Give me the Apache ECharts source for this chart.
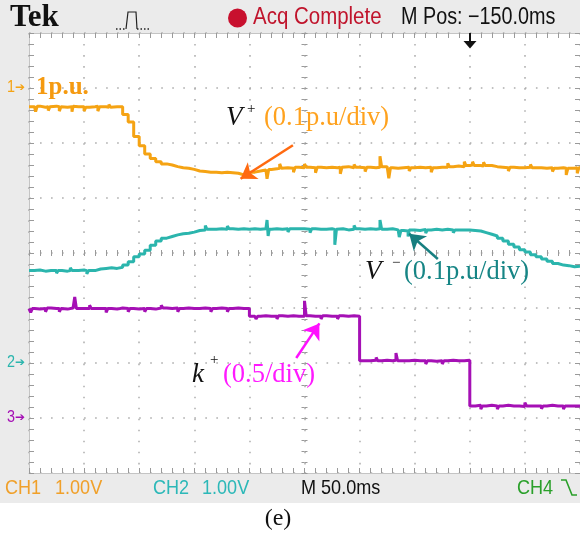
<!DOCTYPE html>
<html><head><meta charset="utf-8">
<script src="https://cdn.jsdelivr.net/npm/echarts@6/dist/echarts.min.js"></script>
<style>html,body{margin:0;padding:0;background:#fff}#c{width:580px;height:533px}</style>
</head><body><div id="c"></div>
<script>
// time in horizontal divisions (M 50.0ms/div)
const timeDiv = [0,0.1,0.2,0.3,0.4,0.5,0.6,0.7,0.8,0.9,1,1.1,1.2,1.3,1.4,1.5,1.6,1.7,1.8,1.9,2,2.1,2.2,2.3,2.4,2.5,2.6,2.7,2.8,2.9,3,3.1,3.2,3.3,3.4,3.5,3.6,3.7,3.8,3.9,4,4.1,4.2,4.3,4.4,4.5,4.6,4.7,4.8,4.9,5,5.1,5.2,5.3,5.4,5.5,5.6,5.7,5.8,5.9,6,6.1,6.2,6.3,6.4,6.5,6.6,6.7,6.8,6.9,7,7.1,7.2,7.3,7.4,7.5,7.6,7.7,7.8,7.9,8,8.1,8.2,8.3,8.4,8.5,8.6,8.7,8.8,8.9,9,9.1,9.2,9.3,9.4,9.5,9.6,9.7,9.8,9.9,10];
// vertical position in screen divisions (0 = bottom, 8 = top)
const ch1Vplus = [6.66,6.67,6.65,6.66,6.67,6.66,6.65,6.66,6.67,6.66,6.65,6.66,6.67,6.66,6.65,6.66,6.66,
  6.52,6.38,6.12,5.95,5.80,5.72,5.66,5.62,5.60,5.57,5.55,5.54,5.52,5.49,5.48,5.47,5.47,5.46,5.47,5.46,5.45,5.42,5.42,
  5.47,5.49,5.51,5.52,5.53,5.54,5.55,5.54,5.56,5.55,
  5.56,5.55,5.56,5.55,5.56,5.55,5.56,5.57,5.55,5.56,
  5.55,5.56,5.55,5.56,5.57,5.55,5.54,5.55,5.56,5.55,
  5.56,5.55,5.56,5.55,5.56,5.56,5.57,5.58,5.57,5.59,
  5.60,5.59,5.58,5.59,5.57,5.56,5.55,5.56,5.55,5.55,
  5.56,5.55,5.55,5.54,5.55,5.54,5.55,5.54,5.54,5.55,5.55];
// short glitches: time of glitch start / value, then return
const ch1SpikeT = [0.12,0.15,0.35,0.38,0.55,0.58,0.78,0.81,1.0,1.03,1.25,1.28,1.45,1.48,4.32,4.35,4.55,4.58,4.8,4.83,5.0,5.03,5.2,5.23,5.65,5.68,5.9,5.93,6.1,6.13,6.37,6.4,6.53,6.56,6.9,6.93,7.3,7.33,7.6,7.63,7.9,7.93,8.05,8.08,8.25,8.28,8.7,8.73,9.1,9.13,9.5,9.53,9.75,9.78,9.95,9.98];
const ch1SpikeV = [6.57,6.67,6.59,6.66,6.58,6.66,6.57,6.66,6.58,6.65,6.58,6.66,6.70,6.65,5.35,5.52,5.62,5.54,5.47,5.56,5.62,5.56,5.46,5.56,5.44,5.56,5.61,5.56,5.48,5.56,5.76,5.57,5.36,5.55,5.49,5.55,5.47,5.55,5.63,5.57,5.66,5.59,5.66,5.59,5.65,5.59,5.49,5.56,5.61,5.55,5.48,5.54,5.42,5.54,5.45,5.55];

const ch2Vminus = [3.68,3.69,3.67,3.68,3.68,3.69,3.67,3.68,3.68,3.69,3.68,3.68,
  3.71,3.72,3.73,3.72,3.74,3.78,3.84,3.93,
  3.98,4.05,4.14,4.22,4.27,4.30,4.33,4.35,4.36,4.38,
  4.41,4.42,4.43,4.43,4.44,4.43,4.44,4.43,4.44,4.43,
  4.44,4.43,4.44,4.43,4.44,4.43,4.44,4.43,4.44,4.44,
  4.43,4.44,4.43,4.43,4.44,4.43,4.44,4.42,4.43,4.44,
  4.43,4.44,4.43,4.44,4.43,4.44,4.42,4.41,4.40,4.42,
  4.41,4.43,4.42,4.43,4.42,4.43,4.42,4.43,4.42,4.42,
  4.41,4.40,4.37,4.34,4.31,4.27,4.22,4.16,4.11,4.06,
  4.02,3.97,3.93,3.89,3.85,3.81,3.78,3.77,3.75,3.76,3.75];
const ch2SpikeT = [0.5,0.53,0.75,0.78,1.05,1.08,3.2,3.23,3.6,3.63,4.32,4.34,4.36,4.7,4.73,5.1,5.13,5.55,5.58,5.9,5.93,6.37,6.4,6.72,6.75,6.88,6.91,7.2,7.23,7.7,7.73];
const ch2SpikeV = [3.63,3.68,3.73,3.68,3.62,3.68,4.50,4.43,4.49,4.44,4.60,4.31,4.43,4.38,4.44,4.37,4.44,4.15,4.43,4.50,4.44,4.60,4.43,4.29,4.41,4.30,4.42,4.36,4.42,4.37,4.42];

const ch4Kplus = [2.99,2.98,2.99,3.00,2.99,2.99,2.98,3.00,2.99,2.99,
  2.99,2.98,2.99,2.99,2.99,2.98,3.00,2.99,2.99,2.98,
  2.99,2.99,2.98,3.00,3.01,2.99,3.00,2.99,3.00,2.99,
  2.99,3.00,2.99,2.98,3.00,2.99,2.99,3.00,2.99,2.99,
  2.85,2.85,2.86,2.85,2.85,2.86,2.85,2.86,2.85,2.85,
  2.86,2.85,2.85,2.86,2.85,2.85,2.86,2.85,2.86,2.85,
  2.04,2.04,2.05,2.04,2.05,2.04,2.05,2.04,2.04,2.05,
  2.04,2.04,2.05,2.03,2.04,2.04,2.05,2.04,2.04,2.05,
  1.22,1.23,1.22,1.23,1.22,1.22,1.23,1.22,1.22,1.21,
  1.23,1.22,1.22,1.22,1.23,1.22,1.22,1.21,1.22,1.22,1.22];
const ch4SpikeT = [0.03,0.06,0.3,0.33,0.55,0.58,0.83,0.86,1.1,1.13,1.4,1.43,1.8,1.83,2.1,2.13,2.4,2.43,2.7,2.73,3.3,3.33,3.6,3.63,4.12,4.15,4.5,4.53,5.0,5.03,5.3,5.33,5.6,5.63,6.3,6.33,6.66,6.69,7.2,7.23,7.5,7.53,8.2,8.23,8.5,8.53,9.0,9.03,9.3,9.33,9.7,9.73];
const ch4SpikeV = [2.92,2.99,2.93,3.00,2.93,2.99,3.20,2.99,3.05,2.99,2.92,2.99,2.93,2.99,2.93,2.99,3.05,3.00,2.93,2.99,2.93,2.99,2.93,2.99,2.80,2.85,2.80,2.86,3.13,2.86,2.80,2.86,2.80,2.86,2.10,2.04,2.18,2.04,1.98,2.04,1.98,2.04,1.16,1.22,1.16,1.22,1.28,1.22,1.17,1.22,1.16,1.22];

const C_OR = '#f5a313', C_CY = '#2bb5ad', C_MG = '#a510b5';
const grid = {left:29, top:33, width:551, height:440};
const tickC = '#9a9a9a';
function bAxis(extra){
  return Object.assign({type:'value', axisLabel:{show:false}, splitLine:{show:false},
    axisLine:{show:true, onZero:false, lineStyle:{color:'#c4c4c4', width:1}},
    axisTick:{show:true, inside:true, length:5, lineStyle:{color:tickC}},
    minorTick:{show:true, splitNumber:5, length:5, lineStyle:{color:tickC}}}, extra);
}
function cAxis(extra, inside){
  return Object.assign({type:'value', axisLabel:{show:false}, splitLine:{show:false},
    axisLine:{show:true, onZero:true, lineStyle:{opacity:0}},
    axisTick:{show:true, inside:inside, length:3, lineStyle:{color:tickC}},
    minorTick:{show:true, splitNumber:5, length:3, lineStyle:{color:tickC}}}, extra);
}
const dotted = {show:true, lineStyle:{type:[1.6,9.42], width:1.5, color:'#adadad'}};

const xAxes = [
  bAxis({gridIndex:0, position:'bottom', min:0, max:10, interval:1, splitLine:dotted}),
  bAxis({gridIndex:0, position:'top', min:0, max:10, interval:1}),
  cAxis({gridIndex:1, position:'bottom', min:-5, max:5, interval:1}, false),
  cAxis({gridIndex:2, position:'bottom', min:-5, max:5, interval:1}, true)
];
const yAxes = [
  bAxis({gridIndex:0, position:'left', min:0, max:8, interval:1, splitLine:dotted}),
  bAxis({gridIndex:0, position:'right', min:0, max:8, interval:1}),
  cAxis({gridIndex:1, position:'left', min:-4, max:4, interval:1}, false),
  cAxis({gridIndex:2, position:'left', min:-4, max:4, interval:1}, true)
];

function arrow(from, to, color){
  return {silent:true, symbol:['none','arrow'], symbolSize:15, label:{show:false},
    itemStyle:{color:color},
    lineStyle:{color:color, width:2.5, type:'solid'}, emphasis:{disabled:true},
    data:[[{coord:from},{coord:to}]]};
}
function trace(name, vals, spT, spV, color, ml){
  const pts = timeDiv.map((t,i)=>[t, vals[i]])
    .concat(spT.map((t,i)=>[t, spV[i]]))
    .sort((a,b)=>a[0]-b[0]);
  return {name:name, type:'line', xAxisIndex:0, yAxisIndex:0, step:'end', showSymbol:false,
    animation:false, lineStyle:{color:color, width:3}, itemStyle:{color:color},
    data: pts, markLine: ml};
}
const series = [
  trace('k+', ch4Kplus, ch4SpikeT, ch4SpikeV, C_MG, arrow([4.85,2.09],[5.27,2.72],'#ff10ff')),
  trace('V-', ch2Vminus, ch2SpikeT, ch2SpikeV, C_CY, arrow([7.42,3.89],[6.90,4.35],'#177f80')),
  trace('V+', ch1Vplus, ch1SpikeT, ch1SpikeV, C_OR, arrow([4.79,5.96],[3.84,5.35],'#ff6a10'))
];

const SANS = '"Liberation Sans", Arial, sans-serif';
const SERIF = '"Liberation Serif", "Times New Roman", serif';
function txt(x,y,text,font,fill,sx,align){
  return {type:'text', x:x, y:y, scaleX:sx||1, z:100, silent:true,
    style:{text:text, font:font, fill:fill, textAlign:align||'left', textVerticalAlign:'middle'}};
}
const graphic = [
  {type:'rect', shape:{x:0,y:0,width:580,height:503}, style:{fill:'#ebebeb'}, z:-10, silent:true},
  txt(10,18,'Tek','bold 31px '+SERIF,'#111'),
  {type:'polyline', shape:{points:[[116,29],[126,29]]}, style:{stroke:'#222', lineWidth:1.5, lineDash:[1.5,2]}, z:100},
  {type:'polyline', shape:{points:[[126,29],[128,12],[136,12],[137,29]]}, style:{stroke:'#222', lineWidth:1.2, fill:null}, z:100},
  {type:'polyline', shape:{points:[[137,29],[150,29]]}, style:{stroke:'#222', lineWidth:1.5, lineDash:[1.5,2]}, z:100},
  {type:'circle', shape:{cx:237.5, cy:18, r:9.5}, style:{fill:'#c8102e'}, z:100},
  txt(253,18,'Acq Complete','23px '+SANS,'#c0142c',0.89),
  txt(401,18,'M Pos: \u2212150.0ms','23px '+SANS,'#111',0.86),
  {type:'polyline', shape:{points:[[470,33],[470,43]]}, style:{stroke:'#111', lineWidth:2}, z:100},
  {type:'polygon', shape:{points:[[463.5,41],[476.5,41],[470,48.5]]}, style:{fill:'#111'}, z:100},
  txt(7,88,'1','16px '+SANS,C_OR,0.9),
  txt(15,88,'\u2794','12px "DejaVu Sans"',C_OR),
  txt(7,363,'2','16px '+SANS,C_CY,0.9),
  txt(15,363,'\u2794','12px "DejaVu Sans"',C_CY),
  txt(7,418,'3','16px '+SANS,C_MG,0.9),
  txt(15,418,'\u2794','12px "DejaVu Sans"',C_MG),
  txt(36,88,'1p.u.','bold 25px '+SERIF,'#f59a10'),
  txt(226,118,'V','italic 27px '+SERIF,'#111'),
  txt(247,109,'+','15px '+SERIF,'#111'),
  txt(264,118,'(0.1p.u/div)','26.5px '+SERIF,'#ffa21e'),
  txt(365,272,'V','italic 27px '+SERIF,'#111'),
  txt(392,263,'\u2212','15px '+SERIF,'#111'),
  txt(404,272,'(0.1p.u/div)','26.5px '+SERIF,'#168585'),
  txt(192,375,'k','italic 27px '+SERIF,'#111'),
  txt(210,360,'+','15px '+SERIF,'#111'),
  txt(223,375,'(0.5/div)','26.5px '+SERIF,'#ff1aff'),
  txt(5,488,'CH1','21px '+SANS,'#f0a02a',0.86),
  txt(55,488,'1.00V','21px '+SANS,'#f0a02a',0.86),
  txt(153,488,'CH2','21px '+SANS,'#2cb8b8',0.86),
  txt(202,488,'1.00V','21px '+SANS,'#2cb8b8',0.86),
  txt(301,488,'M 50.0ms','21px '+SANS,'#111',0.86),
  txt(517,488,'CH4','21px '+SANS,'#2aa02a',0.86),
  {type:'polyline', shape:{points:[[561,480],[566,480],[572,495],[577,495]]}, style:{stroke:'#2aa02a', lineWidth:1.6, fill:null}, z:100},
  txt(278,519,'(e)','24px '+SERIF,'#111',1,'center')
];

const chart = echarts.init(document.getElementById('c'), null, {renderer:'canvas'});
chart.setOption({
  animation:false,
  backgroundColor:'#ffffff',
  grid:[
    Object.assign({show:true, backgroundColor:'#ffffff', borderWidth:0}, grid),
    Object.assign({}, grid),
    Object.assign({}, grid)
  ],
  xAxis: xAxes,
  yAxis: yAxes,
  series: series,
  graphic: graphic
});
</script></body></html>
